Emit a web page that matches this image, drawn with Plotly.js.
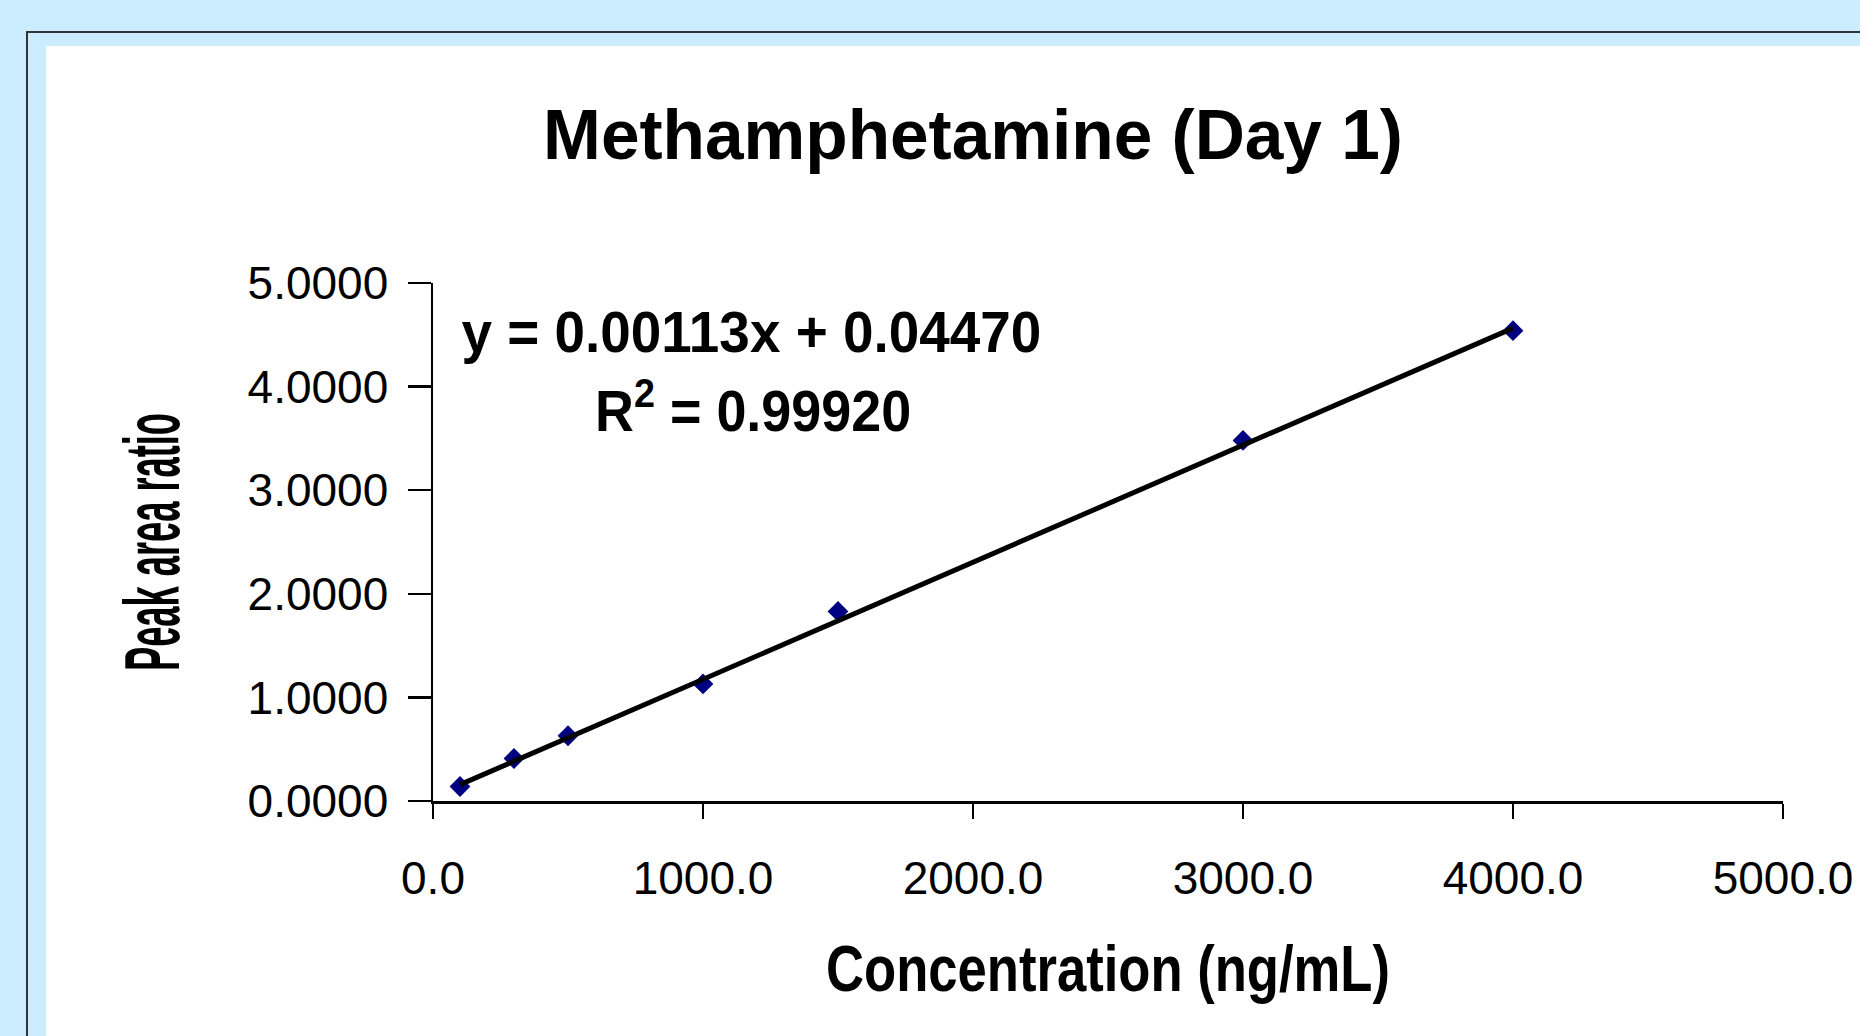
<!DOCTYPE html>
<html><head><meta charset="utf-8">
<script src="https://cdn.plot.ly/plotly-3.0.1.min.js"></script>
<style>html,body{margin:0;padding:0;background:#CCECFF;overflow:hidden}#chart{width:1860px;height:1036px}</style>
</head><body><div id="chart"></div>
<script>
// ---- data ----
const concentration = [100, 300, 500, 1000, 1500, 3000, 4000];
const peakAreaRatio = [0.14, 0.41, 0.63, 1.13, 1.83, 3.48, 4.54];
const slope = 0.00113;
const intercept = 0.0447;
const rSquared = 0.9992;
const xTickValues = [0, 1000, 2000, 3000, 4000, 5000];
const xTickLabels = ["0.0", "1000.0", "2000.0", "3000.0", "4000.0", "5000.0"];
const yTickValues = [0, 1, 2, 3, 4, 5];
const yTickLabels = ["0.0000", "1.0000", "2.0000", "3.0000", "4.0000", "5.0000"];
const titleText = "Methamphetamine (Day 1)";
const xTitleText = "Concentration (ng/mL)";
const yTitleText = "Peak area ratio";

// ---- layout geometry ----
const W = 1860, H = 1036, L = 433, R = 77, T = 283, B = 235;
const PW = W - L - R, PH = H - T - B;
const pxX = px => (px - L) / PW;
const pxY = py => (H - B - py) / PH;
const FONT = "Liberation Sans, Arial, Helvetica, sans-serif";

const xMin = Math.min(...concentration), xMax = Math.max(...concentration);
const trendX = [xMin, xMax];
const trendY = trendX.map(x => slope * x + intercept);

const eqText = "y = " + slope.toFixed(5) + "x + " + intercept.toFixed(5);
const r2Text = "R<sup>2</sup> = " + rSquared.toFixed(5);

const traces = [
  {x: concentration, y: peakAreaRatio, type: "scatter", mode: "markers",
   marker: {symbol: "diamond", size: 16, color: "#000080", line: {width: 0}},
   hoverinfo: "x+y", showlegend: false},
  {x: trendX, y: trendY, type: "scatter", mode: "lines",
   line: {color: "#000000", width: 5}, hoverinfo: "skip", showlegend: false}
];

const layout = {
  width: W, height: H,
  margin: {l: L, r: R, t: T, b: B, pad: 0},
  paper_bgcolor: "#CCECFF",
  plot_bgcolor: "rgba(0,0,0,0)",
  font: {family: FONT, color: "#000000"},
  showlegend: false,
  title: {text: titleText, font: {family: FONT, size: 70, weight: "bold", color: "#000"},
          xref: "container", yref: "container", x: 973 / W, y: 1 - 135 / H,
          xanchor: "center", yanchor: "middle"},
  xaxis: {
    range: [0, 5000], tickmode: "array", tickvals: xTickValues, ticktext: xTickLabels,
    showline: true, linecolor: "#000", linewidth: 2.5, mirror: false,
    ticks: "outside", ticklen: 15, tickwidth: 2.5, tickcolor: "#000",
    showgrid: false, zeroline: false, fixedrange: true,
    tickfont: {family: FONT, size: 46, color: "#000"},
    ticklabelstandoff: 20,
    title: {text: xTitleText, font: {family: FONT, size: 64, weight: "bold", color: "#000"}, standoff: 44},
    automargin: false
  },
  yaxis: {
    range: [0, 5], tickmode: "array", tickvals: yTickValues, ticktext: yTickLabels,
    showline: true, linecolor: "#000", linewidth: 2.5, mirror: false,
    ticks: "outside", ticklen: 23, tickwidth: 2.5, tickcolor: "#000",
    showgrid: false, zeroline: false, fixedrange: true,
    tickfont: {family: FONT, size: 46, color: "#000"},
    ticklabelstandoff: 10,
    title: {text: yTitleText, font: {family: FONT, size: 78, weight: "bold", color: "#000"}, standoff: 43},
    automargin: false
  },
  shapes: [
    {type: "rect", xref: "paper", yref: "paper", layer: "below",
     x0: pxX(27), x1: pxX(1950), y0: pxY(1150), y1: pxY(32),
     line: {color: "#333333", width: 2}, fillcolor: "rgba(0,0,0,0)"},
    {type: "rect", xref: "paper", yref: "paper", layer: "below",
     x0: pxX(46), x1: pxX(1950), y0: pxY(1150), y1: pxY(46),
     line: {width: 0}, fillcolor: "#FFFFFF"}
  ],
  annotations: [
    {text: eqText, xref: "paper", yref: "paper", x: pxX(751), y: pxY(331),
     xanchor: "center", yanchor: "middle", showarrow: false,
     font: {family: FONT, size: 58, weight: "bold", color: "#000"}},
    {text: r2Text, xref: "paper", yref: "paper", x: pxX(753), y: pxY(406),
     xanchor: "center", yanchor: "middle", showarrow: false,
     font: {family: FONT, size: 58, weight: "bold", color: "#000"}}
  ]
};

function squeeze(el, target) {
  if (!el) return;
  const bb = el.getBBox();
  if (!bb.width) return;
  const s = target / bb.width;
  const cx = bb.x + bb.width / 2;
  const t = el.getAttribute("transform") || "";
  el.setAttribute("transform", t + " translate(" + cx + " 0) scale(" + s + " 1) translate(" + (-cx) + " 0)");
}

Plotly.newPlot("chart", traces, layout, {displayModeBar: false, staticPlot: true}).then(gd => {
  squeeze(gd.querySelector(".gtitle"), 860);
  squeeze(gd.querySelector(".xtitle"), 564);
  squeeze(gd.querySelector(".ytitle"), 258);
  const ann = gd.querySelectorAll(".annotation-text");
  if (ann[0]) squeeze(ann[0], 580);
  if (ann[1]) squeeze(ann[1], 316);
});
</script>
</body></html>
